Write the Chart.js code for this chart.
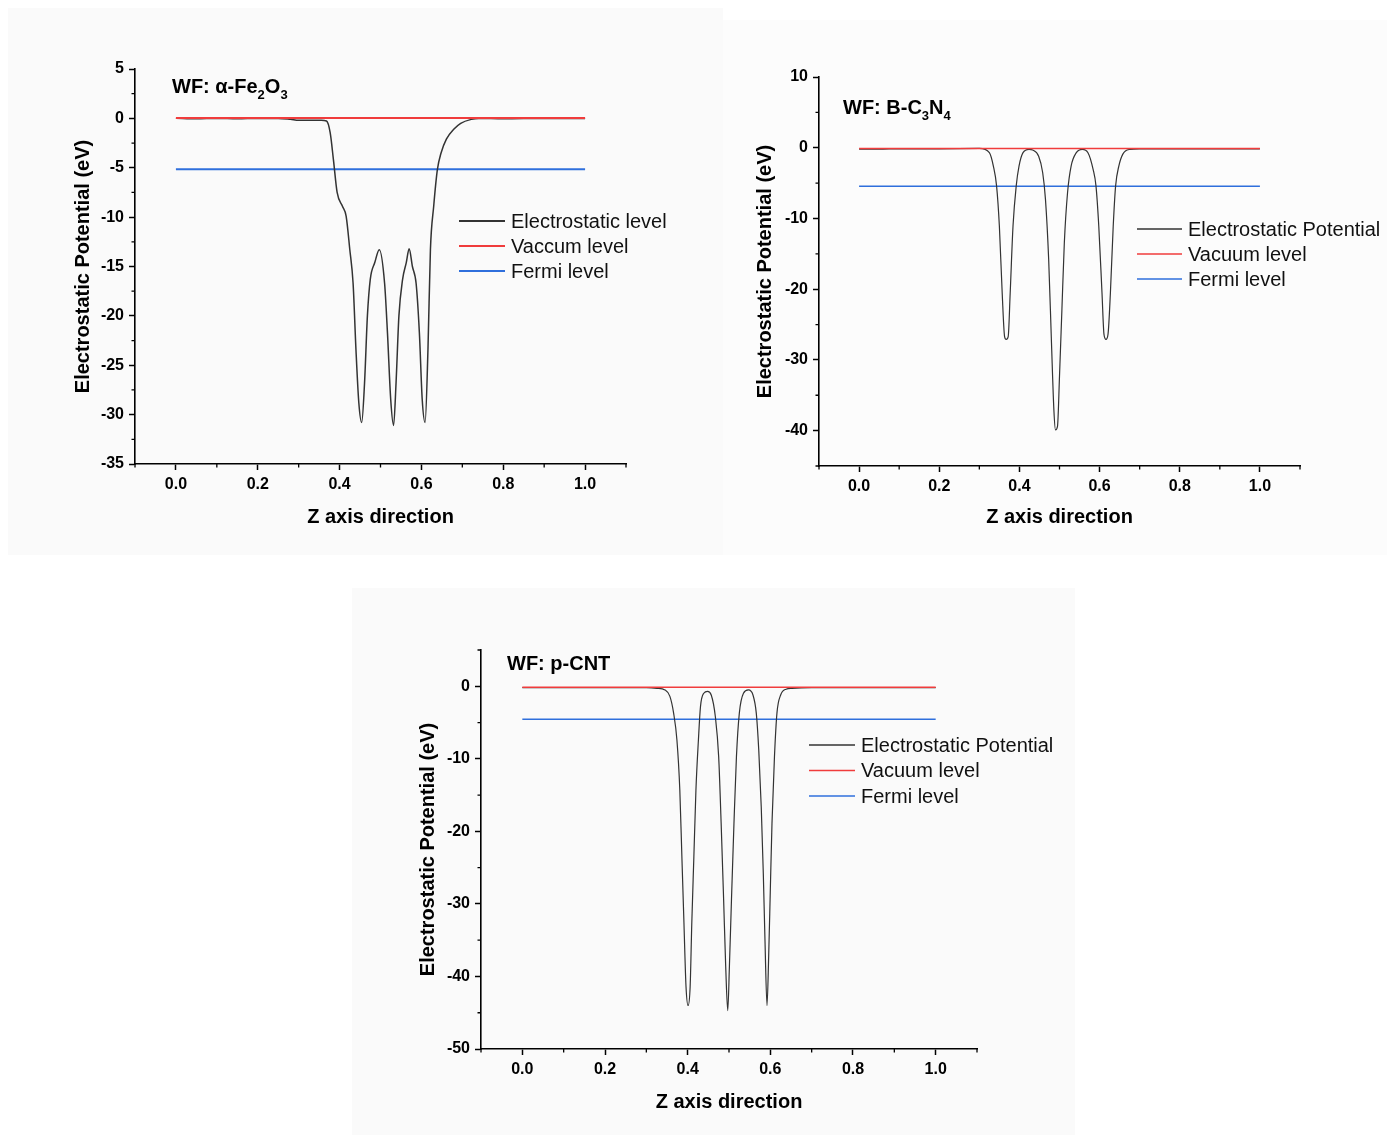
<!DOCTYPE html>
<html>
<head>
<meta charset="utf-8">
<title>Work function - electrostatic potential</title>
<script src="https://cdn.jsdelivr.net/npm/chart.js@4.4.0/dist/chart.umd.min.js"></script>
<style>
  body { margin: 0; width: 1387px; height: 1135px; position: relative; overflow: hidden; background: #fff; }
  .bg { position: absolute; }
  canvas { position: absolute; }
</style>
</head>
<body>
<div class="bg" style="left:8px;top:8px;width:715px;height:547px;background:#fafafa"></div>
<div class="bg" style="left:723px;top:20px;width:664px;height:535px;background:#fcfcfc"></div>
<div class="bg" style="left:352px;top:588px;width:723px;height:547px;background:#fafafa"></div>

<canvas id="chart-fe2o3" width="710" height="545" style="left:10px;top:10px"></canvas>
<canvas id="chart-bc3n4" width="662" height="535" style="left:725px;top:20px"></canvas>
<canvas id="chart-pcnt" width="723" height="545" style="left:352px;top:590px"></canvas>

<script>
// ---- data ----
const xMajor = [0, 0.2, 0.4, 0.6, 0.8, 1.0];
const xMinor = [-0.1, 0.1, 0.3, 0.5, 0.7, 0.9, 1.1];

// alpha-Fe2O3
const fe2o3X = [0, 0.05, 0.1, 0.15, 0.2, 0.25,
                0.28, 0.3, 0.33, 0.355, 0.368, 0.377,
                0.385, 0.394, 0.407, 0.416, 0.425, 0.433,
                0.44, 0.447, 0.454, 0.461, 0.468, 0.475,
                0.486, 0.497, 0.51, 0.517, 0.525,
                0.532, 0.538, 0.545, 0.554, 0.563, 0.57,
                0.578, 0.587, 0.595, 0.602, 0.609, 0.616,
                0.622, 0.63, 0.639, 0.648, 0.661, 0.679,
                0.696, 0.722, 0.74, 0.8, 0.9, 1.0];
const fe2o3Y = [0, -0.05, 0, -0.05, 0, 0,
                -0.1, -0.2, -0.2, -0.2, -0.27, -1.45,
                -4.2, -7.5, -8.9, -9.9, -13.3, -16.7,
                -23.4, -28.8, -30.8, -26.8, -20, -16.3,
                -14.6, -13.3, -16.7, -21.7, -28.5,
                -31.1, -26.8, -20, -16.3, -14.6, -13.2,
                -15, -16.7, -21.7, -28.5, -30.8, -23.4,
                -13.3, -8.9, -5.2, -3.5, -2.1, -1.1,
                -0.5, -0.1, 0, -0.05, 0, 0];
const fe2o3Vacuum = 0.05;
const fe2o3Fermi = -5.14;
const fe2o3YMajor = [5, 0, -5, -10, -15, -20, -25, -30, -35];
const fe2o3YMinor = [2.5, -2.5, -7.5, -12.5, -17.5, -22.5, -27.5, -32.5];

// B-C3N4
const bc3n4X = [0, 0.05, 0.1, 0.2, 0.3, 0.325,
                0.335, 0.343, 0.35, 0.357, 0.363, 0.367,
                0.372, 0.377, 0.384, 0.392, 0.399, 0.409,
                0.424, 0.433, 0.448, 0.458, 0.465, 0.473,
                0.48, 0.486, 0.49, 0.495, 0.5, 0.506,
                0.512, 0.52, 0.529, 0.542, 0.557, 0.571,
                0.584, 0.591, 0.598, 0.606, 0.611, 0.616,
                0.621, 0.627, 0.634, 0.64, 0.648, 0.658,
                0.675, 0.7, 0.8, 0.9, 1.0];
const bc3n4Y = [-0.2, -0.2, -0.15, -0.15, -0.1, -0.7,
                -2.6, -5.4, -11.1, -20.5, -26.7, -27.1,
                -26.7, -20.5, -11.1, -5.4, -2.6, -0.7,
                -0.24, -0.33, -1.2, -3.5, -7.3, -15.8,
                -27.6, -37.1, -39.9, -39.4, -32.3, -22.9,
                -13.5, -6.4, -2.6, -0.7, -0.24, -0.7,
                -3.1, -5.4, -11.1, -20.5, -26.4, -27.1,
                -26.4, -20.5, -11.1, -5.4, -2.6, -0.9,
                -0.24, -0.15, -0.15, -0.15, -0.15];
const bc3n4Vacuum = -0.1;
const bc3n4Fermi = -5.43;
const bc3n4YMajor = [10, 0, -10, -20, -30, -40];
const bc3n4YMinor = [5, -5, -15, -25, -35, -45];

// p-CNT
const pcntX = [0, 0.1, 0.2, 0.3, 0.326, 0.345,
               0.357, 0.366, 0.374, 0.381, 0.386, 0.391,
               0.396, 0.401, 0.406, 0.41, 0.415, 0.42,
               0.426, 0.431, 0.439, 0.448, 0.457, 0.467,
               0.475, 0.481, 0.487, 0.492, 0.497, 0.501,
               0.506, 0.512, 0.518, 0.525, 0.535, 0.547,
               0.558, 0.566, 0.572, 0.578, 0.583, 0.587,
               0.592, 0.596, 0.6, 0.604, 0.61, 0.616,
               0.625, 0.638, 0.652, 0.7, 0.8, 0.9, 1.0];
const pcntY = [-0.2, -0.2, -0.2, -0.2, -0.28, -0.5,
               -1.4, -3.7, -7.4, -14.3, -23.5, -32.6,
               -41.4, -44.0, -41.4, -32.6, -23.5, -14.3,
               -7.4, -2.8, -0.96, -0.7, -1.2, -4.2,
               -9.7, -18.9, -29.4, -38.6, -44.7, -38.6,
               -29.4, -18.9, -9.7, -3.7, -0.96, -0.5,
               -1.2, -3.7, -8.8, -16.6, -25.8, -34.9,
               -44.0, -37.2, -28.0, -18.9, -9.7, -3.7,
               -1.2, -0.4, -0.28, -0.2, -0.2, -0.2, -0.2];
const pcntVacuum = -0.14;
const pcntFermi = -4.55;
const pcntYMajor = [0, -10, -20, -30, -40, -50];
const pcntYMinor = [5, -5, -15, -25, -35, -45];

// ---- styling ----
const FONT = "Arial, 'Liberation Sans', sans-serif";
const RED = '#f03c3c';
const BLUE = '#2f6fdc';
const CURVE = '#333333';

function zip(xs, ys) {
    const n = Math.min(xs.length, ys.length);
    const out = [];
    for (let i = 0; i < n; i++) out.push({ x: xs[i], y: ys[i] });
    return out;
}

// short ticks between the labelled ones
function minorTicksPlugin(xs, ys, len) {
    return {
        id: 'minorTicks',
        afterDraw(chart) {
            const { ctx, chartArea, scales } = chart;
            ctx.save();
            ctx.strokeStyle = '#000';
            ctx.lineWidth = 1.3;
            ctx.beginPath();
            xs.forEach(v => {
                const px = scales.x.getPixelForValue(v);
                ctx.moveTo(px, chartArea.bottom);
                ctx.lineTo(px, chartArea.bottom + len);
            });
            ys.forEach(v => {
                const py = scales.y.getPixelForValue(v);
                ctx.moveTo(chartArea.left, py);
                ctx.lineTo(chartArea.left - len, py);
            });
            ctx.stroke();
            ctx.restore();
        }
    };
}

// legend drawn inside the plot, the way Origin places it
function insetLegendPlugin(lg) {
    return {
        id: 'insetLegend',
        afterDraw(chart) {
            const { ctx } = chart;
            ctx.save();
            ctx.font = `20px ${FONT}`;
            ctx.textBaseline = 'middle';
            ctx.fillStyle = '#111';
            lg.items.forEach((it, i) => {
                const y = lg.y + i * lg.gap;
                ctx.strokeStyle = it.color;
                ctx.lineWidth = it.width;
                ctx.beginPath();
                ctx.moveTo(lg.x0, y);
                ctx.lineTo(lg.x1, y);
                ctx.stroke();
                ctx.fillText(it.text, lg.textX, y + 1);
            });
            ctx.restore();
        }
    };
}

// "WF: ..." label with subscripts
function wfLabelPlugin(lb) {
    return {
        id: 'wfLabel',
        afterDraw(chart) {
            const { ctx } = chart;
            ctx.save();
            ctx.fillStyle = '#000';
            ctx.textBaseline = 'alphabetic';
            let x = lb.x;
            lb.parts.forEach(([txt, sub]) => {
                ctx.font = sub ? `bold 13px ${FONT}` : `bold 20px ${FONT}`;
                ctx.fillText(txt, x, sub ? lb.y + 6 : lb.y);
                x += ctx.measureText(txt).width;
            });
            ctx.restore();
        }
    };
}

function makePanel(canvasId, p) {
    const ctx = document.getElementById(canvasId).getContext('2d');
    const curve = zip(p.xs, p.ys);
    const vac = zip([0, 1], [p.vacuum, p.vacuum]);
    const fermi = zip([0, 1], [p.fermi, p.fermi]);

    return new Chart(ctx, {
        type: 'line',
        data: {
            datasets: [
                { label: p.legend[1], data: vac, borderColor: RED, borderWidth: p.refWidth, order: 0 },
                { label: p.legend[0], data: curve, borderColor: CURVE, borderWidth: p.curveWidth,
                  cubicInterpolationMode: 'monotone', order: 1 },
                { label: p.legend[2], data: fermi, borderColor: BLUE, borderWidth: p.refWidth, order: 2 }
            ]
        },
        options: {
            responsive: false,
            animation: false,
            elements: { point: { radius: 0 } },
            layout: { padding: { left: 0, top: p.padTop, right: p.padRight, bottom: 0 } },
            plugins: { legend: { display: false }, tooltip: { enabled: false } },
            scales: {
                x: {
                    type: 'linear',
                    min: -0.1,
                    max: 1.1,
                    afterBuildTicks: s => { s.ticks = xMajor.map(v => ({ value: v })); },
                    afterFit: s => { s.height = p.xAxisH; },
                    grid: { drawOnChartArea: false, tickLength: 6, tickWidth: 1.5, tickColor: '#000' },
                    border: { color: '#000', width: 1.6 },
                    ticks: {
                        color: '#000', padding: 5, maxRotation: 0,
                        font: { family: FONT, size: 16, weight: 'bold' },
                        callback: v => Number(v).toFixed(1)
                    },
                    title: {
                        display: true, text: 'Z axis direction', color: '#000',
                        font: { family: FONT, size: 20, weight: 'bold' },
                        padding: { top: 0, bottom: p.xTitlePad }
                    }
                },
                y: {
                    min: p.yMin,
                    max: p.yMax,
                    afterBuildTicks: s => { s.ticks = p.yMajor.map(v => ({ value: v })); },
                    afterFit: s => { s.width = p.yAxisW; },
                    grid: { drawOnChartArea: false, tickLength: 6, tickWidth: 1.5, tickColor: '#000' },
                    border: { color: '#000', width: 1.6 },
                    ticks: {
                        color: '#000', padding: 5,
                        font: { family: FONT, size: 16, weight: 'bold' },
                        callback: v => String(v)
                    },
                    title: {
                        display: true, text: 'Electrostatic Potential (eV)', color: '#000',
                        font: { family: FONT, size: 20, weight: 'bold' },
                        padding: { top: p.yTitlePad, bottom: 0 }
                    }
                }
            }
        },
        plugins: [
            minorTicksPlugin(xMinor, p.yMinor, 3.5),
            insetLegendPlugin(p.legendBox),
            wfLabelPlugin(p.label)
        ]
    });
}

function legendItems(names, curveW, refW) {
    return [
        { text: names[0], color: CURVE, width: curveW },
        { text: names[1], color: RED, width: refW },
        { text: names[2], color: BLUE, width: refW }
    ];
}

const fe2o3Legend = ['Electrostatic level', 'Vaccum level', 'Fermi level'];
const bc3n4Legend = ['Electrostatic Potential', 'Vacuum level', 'Fermi level'];
const pcntLegend = ['Electrostatic Potential', 'Vacuum level', 'Fermi level'];

makePanel('chart-fe2o3', {
    xs: fe2o3X, ys: fe2o3Y, vacuum: fe2o3Vacuum, fermi: fe2o3Fermi,
    yMin: -35, yMax: 5, yMajor: fe2o3YMajor, yMinor: fe2o3YMinor,
    legend: fe2o3Legend, curveWidth: 1.5, refWidth: 2,
    padTop: 59, padRight: 94, yAxisW: 125, xAxisH: 91,
    yTitlePad: 61, xTitlePad: 26,
    legendBox: { x0: 449, x1: 495, textX: 501, y: 211, gap: 25, items: legendItems(fe2o3Legend, 2, 2) },
    label: { x: 162, y: 83, parts: [['WF: α-Fe', false], ['2', true], ['O', false], ['3', true]] }
});

makePanel('chart-bc3n4', {
    xs: bc3n4X, ys: bc3n4Y, vacuum: bc3n4Vacuum, fermi: bc3n4Fermi,
    yMin: -45, yMax: 10, yMajor: bc3n4YMajor, yMinor: bc3n4YMinor,
    legend: bc3n4Legend, curveWidth: 1.2, refWidth: 1.5,
    padTop: 57, padRight: 87, yAxisW: 94, xAxisH: 89,
    yTitlePad: 28, xTitlePad: 26,
    legendBox: { x0: 412, x1: 457, textX: 463, y: 209, gap: 25, items: legendItems(bc3n4Legend, 1.3, 1.5) },
    label: { x: 118, y: 94, parts: [['WF: B-C', false], ['3', true], ['N', false], ['4', true]] }
});

makePanel('chart-pcnt', {
    xs: pcntX, ys: pcntY, vacuum: pcntVacuum, fermi: pcntFermi,
    yMin: -50, yMax: 5, yMajor: pcntYMajor, yMinor: pcntYMinor,
    legend: pcntLegend, curveWidth: 1.2, refWidth: 1.5,
    padTop: 60, padRight: 98, yAxisW: 129, xAxisH: 86,
    yTitlePad: 64, xTitlePad: 21,
    legendBox: { x0: 457, x1: 503, textX: 509, y: 155, gap: 25.5, items: legendItems(pcntLegend, 1.5, 1.5) },
    label: { x: 155, y: 80, parts: [['WF: p-CNT', false]] }
});
</script>
</body>
</html>
